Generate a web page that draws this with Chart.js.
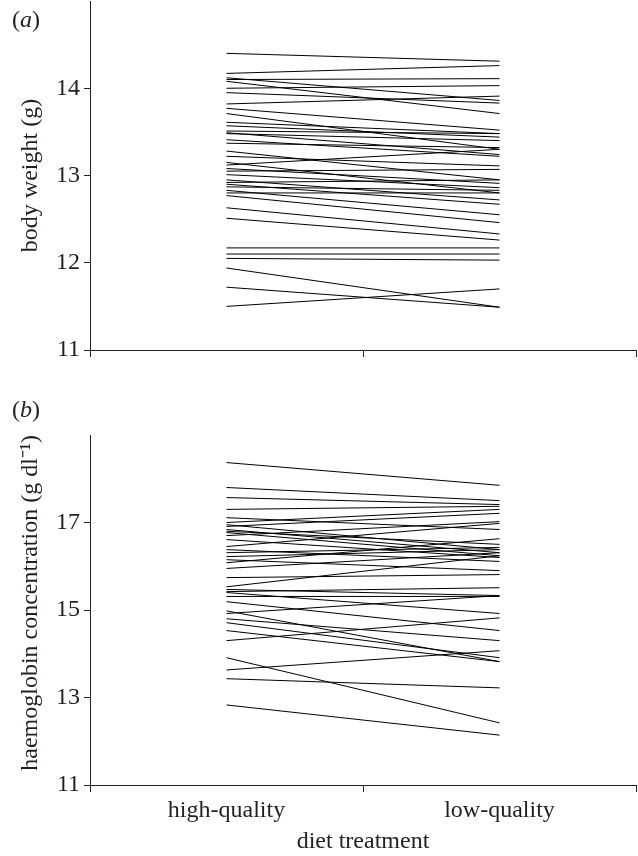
<!DOCTYPE html>
<html>
<head>
<meta charset="utf-8">
<script src="https://cdn.jsdelivr.net/npm/chart.js@4.4.1/dist/chart.umd.min.js"></script>
<style>
  html, body { margin: 0; padding: 0; background: #fff; }
  body { width: 638px; height: 856px; position: relative; overflow: hidden; }
  .panel { position: absolute; left: 0; width: 638px; }
  .tag { position: absolute; left: 12px; font-size: 24px; color: #231f20; font-family: 'Liberation Serif', 'Times New Roman', Tinos, Times, serif; }
</style>
</head>
<body>
<div class="panel" style="top:0; height:380px;"><canvas id="chartA" width="638" height="380"></canvas></div>
<div class="panel" style="top:380px; height:476px;"><canvas id="chartB" width="638" height="476"></canvas></div>
<div class="tag" style="top:6px;">(<i>a</i>)</div>
<div class="tag" style="top:396px;">(<i>b</i>)</div>
<script>
// categories on the x axis
const dietLabels = ['high-quality', 'low-quality'];

// (a) body weight (g), one bird per index: high-quality diet vs low-quality diet
const weightHigh = [14.40, 14.17, 14.12, 14.10, 14.08, 14.00, 13.95, 13.82, 13.77, 13.71,
                    13.61, 13.57, 13.51, 13.49, 13.48, 13.41, 13.37, 13.28, 13.22, 13.15,
                    13.12, 13.08, 13.05, 13.01, 12.95, 12.92, 12.90, 12.87, 12.83, 12.80,
                    12.77, 12.63, 12.51, 12.17, 12.10, 12.05, 11.94, 11.72, 11.50];
const weightLow  = [14.31, 14.26, 13.86, 14.11, 13.71, 14.03, 13.83, 13.91, 13.52, 13.30,
                    13.48, 13.44, 13.48, 13.24, 13.40, 13.22, 13.32, 12.95, 13.11, 12.80,
                    13.30, 12.91, 13.07, 12.86, 12.72, 12.95, 12.67, 12.83, 12.55, 12.80,
                    12.46, 12.33, 12.26, 12.17, 12.10, 12.03, 11.49, 11.49, 11.70];

// (b) haemoglobin concentration (g dl-1)
const hbHigh = [18.37, 17.80, 17.57, 17.30, 17.11, 17.00, 16.95, 16.91, 16.84, 16.80,
                16.77, 16.70, 16.61, 16.45, 16.38, 16.31, 16.22, 16.15, 16.08, 15.95,
                15.74, 15.53, 15.47, 15.42, 15.40, 15.31, 15.19, 14.98, 14.92, 14.80,
                14.71, 14.53, 14.30, 13.91, 13.63, 13.43, 12.83];
const hbLow  = [17.85, 17.50, 17.41, 17.37, 16.84, 17.30, 16.38, 17.21, 16.31, 16.50,
                16.24, 17.02, 16.20, 16.98, 16.11, 16.43, 16.38, 15.90, 16.63, 16.31,
                15.81, 16.24, 15.33, 15.51, 14.92, 15.31, 14.53, 13.82, 15.33, 14.30,
                13.91, 13.82, 14.82, 12.42, 14.07, 13.22, 12.14];

// axis tick values shown
const weightTicks = [11, 12, 13, 14];
const hbTicks = [11, 13, 15, 17];

const ink = '#231f20';
const serif = "'Liberation Serif', 'Times New Roman', Tinos, Times, serif";

// one dataset per bird, joining its two diet values
function pairSets(hi, lo) {
    return hi.map((v, i) => ({
        data: [v, lo[i]],
        borderColor: '#000',
        borderWidth: 1,
        pointRadius: 0,
        fill: false,
        tension: 0
    }));
}

function buildPanel(canvasId, hi, lo, yMin, yMax, tickVals, yTitle, titleAlign, showX, xHeight, padTop) {
    const ctx = document.getElementById(canvasId).getContext('2d');
    return new Chart(ctx, {
        type: 'line',
        data: { labels: dietLabels, datasets: pairSets(hi, lo) },
        options: {
            responsive: false,
            animation: false,
            layout: { padding: { top: padTop, right: 2, left: 0, bottom: 0 } },
            plugins: { legend: { display: false }, tooltip: { enabled: false } },
            scales: {
                x: {
                    type: 'category',
                    offset: true,
                    grid: { offset: true, drawOnChartArea: false, tickLength: 7, color: ink, lineWidth: 1 },
                    border: { display: true, color: ink, width: 1 },
                    ticks: { display: showX, color: ink, padding: 4, font: { family: serif, size: 24 } },
                    title: { display: showX, text: 'diet treatment', color: ink, padding: { top: 0, bottom: 0 }, font: { family: serif, size: 24 } },
                    afterFit: s => { s.height = xHeight; s.paddingLeft = 0; s.paddingRight = 0; }
                },
                y: {
                    min: yMin,
                    max: yMax,
                    afterBuildTicks: s => { s.ticks = tickVals.map(v => ({ value: v })); },
                    grid: { drawOnChartArea: false, tickLength: 6, color: ink, lineWidth: 1 },
                    border: { display: true, color: ink, width: 1 },
                    ticks: { color: ink, padding: 4, font: { family: serif, size: 24 } },
                    title: { display: true, text: yTitle, align: titleAlign, color: ink, padding: { top: 16, bottom: 0 }, font: { family: serif, size: 24 } },
                    afterFit: s => { s.width = 90; s.paddingTop = 0; s.paddingBottom = 0; }
                }
            }
        }
    });
}

buildPanel('chartA', weightHigh, weightLow, 11, 15, weightTicks, 'body weight (g)', 'center', false, 30, 1);
buildPanel('chartB', hbHigh, hbLow, 11, 19, hbTicks, 'haemoglobin concentration (g dl\u207B\u00B9)', 'end', true, 71, 55);
</script>
</body>
</html>
